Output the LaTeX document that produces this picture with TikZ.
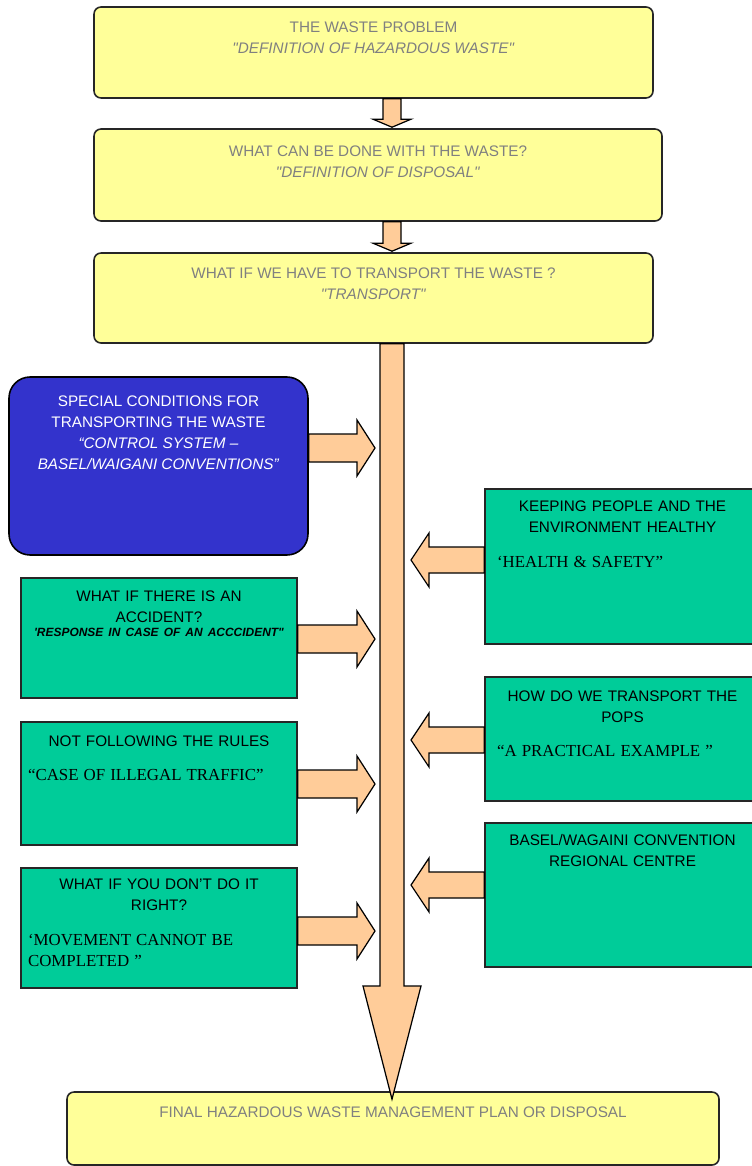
\documentclass[tikz,border=0pt]{standalone}
\usepackage{fontspec}
\setmainfont{Liberation Sans}[Ligatures=TeXOff]
\newfontfamily\quotefont{Liberation Serif}
\usetikzlibrary{calc, fit}

\definecolor{boxyellow}{HTML}{FFFF99}
\definecolor{boxgreen}{HTML}{00CC99}
\definecolor{boxblue}{HTML}{3333CC}
\definecolor{peach}{HTML}{FFCC99}
\definecolor{txtgray}{HTML}{808080}

\tikzset{
    ybox/.style={draw=black!85, fill=boxyellow, line width=0.9pt, rounded corners=4pt, inner sep=0pt},
    gbox/.style={draw=black!85, fill=boxgreen, line width=0.9pt, inner sep=0pt},
    bluebox/.style={draw=black, fill=boxblue, line width=0.9pt, rounded corners=12pt, inner sep=0pt},
    ytext/.style={anchor=north, inner sep=0pt, align=center, text=txtgray, font=\fontsize{8.7}{12}\selectfont},
    gtext/.style={anchor=north, inner sep=0pt, text=black, font=\fontsize{8.7}{12}\selectfont},
    fatarrow/.style={draw=black, fill=peach, line width=0.7pt, line join=miter}
}
\newcommand{\quoteline}{\par\vspace{7.5pt}\raggedright\quotefont\fontsize{9.6}{12}\selectfont}

\begin{document}
\begin{tikzpicture}[x=0.02cm, y=-0.02cm]
        \useasboundingbox (0,0) rectangle (751,1166);
        % yellow steps
        \node[ybox, fit={(94,7) (653,98)}] (prob) {};
        \node[ybox, fit={(94,129) (662,221)}] (disp) {};
        \node[ybox, fit={(94,253) (653,343)}] (trans) {};
        \node[ybox, fit={(67,1092) (719,1165)}] (final) {};
        \node[ytext] (probtxt) at ([yshift=-8.8pt]prob.north) {THE WASTE PROBLEM\\ \textit{"DEFINITION OF HAZARDOUS WASTE"}};
        \node[ytext] (disptxt) at ([yshift=-9.9pt]disp.north) {WHAT CAN BE DONE WITH THE WASTE?\\ \textit{"DEFINITION OF DISPOSAL"}};
        \node[ytext] (transtxt) at ([yshift=-8.8pt]trans.north) {WHAT IF WE HAVE TO TRANSPORT THE WASTE ?\\ \textit{"TRANSPORT"}};
        \node[ytext] (finaltxt) at ([yshift=-8.8pt]final.north) {FINAL HAZARDOUS WASTE MANAGEMENT PLAN OR DISPOSAL};
        % left side
        \node[bluebox, fit={(9,377) (308,555)}] (special) {};
        \node[ytext, text=white] (specialtxt) at ([yshift=-11.1pt]special.north) {SPECIAL CONDITIONS FOR\\ TRANSPORTING THE WASTE\\ \textit{“CONTROL SYSTEM –}\\ \textit{BASEL/WAIGANI CONVENTIONS”}};
        \node[gbox, fit={(21,578) (297,698)}] (accident) {};
        \node[gtext, text width=5.24cm] (accidenttxt) at ([yshift=-7.7pt]accident.north) {\centering WHAT IF THERE IS AN\\ ACCIDENT?\par{\fontsize{6.8}{7.8}\selectfont\bfseries\itshape 'RESPONSE IN CASE OF AN ACCCIDENT"\par}};
        \node[gbox, fit={(21,722) (297,845)}] (rules) {};
        \node[gtext, text width=5.24cm] (rulestxt) at ([yshift=-8.2pt]rules.north) {\centering NOT FOLLOWING THE RULES\quoteline “CASE OF ILLEGAL TRAFFIC”};
        \node[gbox, fit={(21,868) (297,988)}] (wrong) {};
        \node[gtext, text width=5.24cm] (wrongtxt) at ([yshift=-6.5pt]wrong.north) {\centering WHAT IF YOU DON’T DO IT\\ RIGHT?\quoteline ‘MOVEMENT CANNOT BE\\ COMPLETED ”};
        % right side
        \node[gbox, fit={(485,489) (760,644)}] (keep) {};
        \node[gtext, text width=5.02cm] (keeptxt) at ([yshift=-7.1pt]keep.north) {\centering KEEPING PEOPLE AND THE\\ ENVIRONMENT HEALTHY\quoteline ‘HEALTH \& SAFETY”};
        \node[gbox, fit={(485,677) (760,801)}] (pops) {};
        \node[gtext, text width=5.02cm] (popstxt) at ([yshift=-8.2pt]pops.north) {\centering HOW DO WE TRANSPORT THE\\ POPS\quoteline “A PRACTICAL EXAMPLE ”};
        \node[gbox, fit={(485,823) (760,967)}] (centre) {};
        \node[gtext, text width=5.02cm] (centretxt) at ([yshift=-6.5pt]centre.north) {\centering BASEL/WAGAINI CONVENTION\\ REGIONAL CENTRE\par};
        % block arrows
        \foreach \a/\b in {prob/disp, disp/trans}
        {
            \draw[fatarrow] (\a.south -| 383,0) -- ($(\b.north -| 383,0)+(0,-9)$) -- ($(\b.north -| 373,0)+(0,-9)$) -- ($(\b.north -| 392,0)+(0,-1)$) -- ($(\b.north -| 411,0)+(0,-9)$) -- ($(\b.north -| 401,0)+(0,-9)$) -- (\a.south -| 401,0) -- cycle;
        }
        \coordinate (tip) at ($(final.north -| 392,0)+(0,8)$);
        \draw[fatarrow] (trans.south -| 380,0) -- (380,986) -- (363,986) -- (tip) -- (421,986) -- (404,986) -- (trans.south -| 404,0) -- cycle;
        \foreach \n/\y in {special/448, accident/639, rules/784, wrong/931}
        {
            \draw[fatarrow] (\n.east |- 0,\y-14) -- (357,\y-14) -- (357,\y-28) -- (375,\y) -- (357,\y+28) -- (357,\y+14) -- (\n.east |- 0,\y+14) -- cycle;
        }
        \foreach \n/\y in {keep/560, pops/740, centre/885}
        {
            \draw[fatarrow] (\n.west |- 0,\y-13) -- (429,\y-13) -- (429,\y-27) -- (411,\y) -- (429,\y+27) -- (429,\y+13) -- (\n.west |- 0,\y+13) -- cycle;
        }
    \end{tikzpicture}
\end{document}
